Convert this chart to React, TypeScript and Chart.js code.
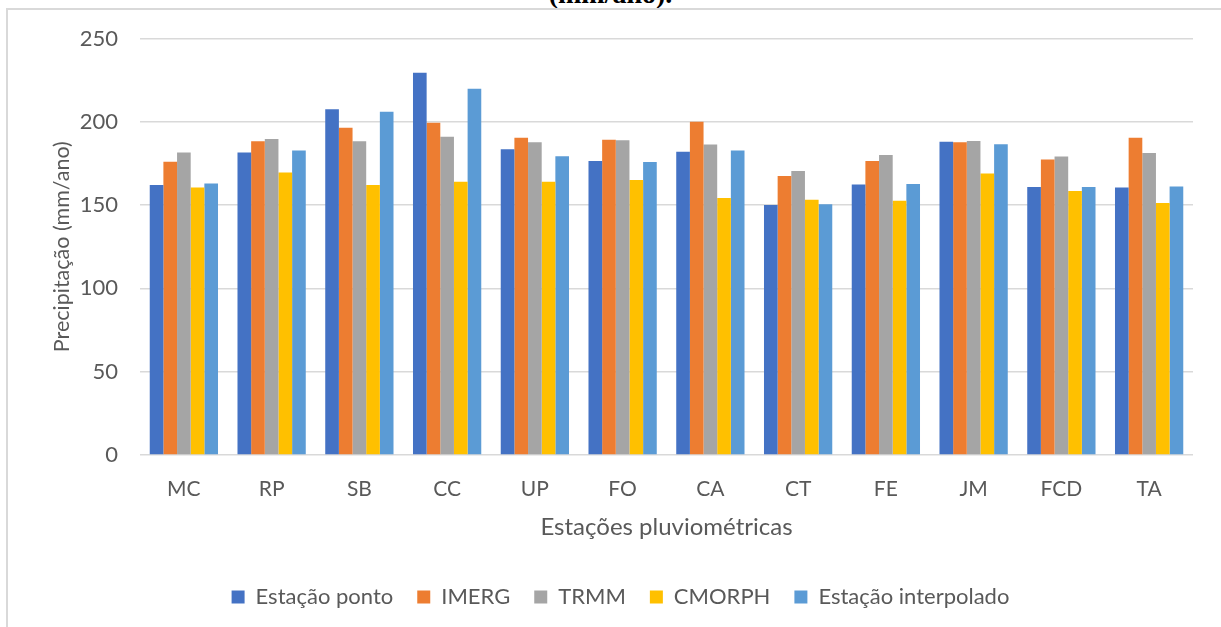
import React, { useEffect, useRef } from "react";
import { Chart, registerables } from "chart.js";

Chart.register(...registerables);

const categories = ["MC", "RP", "SB", "CC", "UP", "FO", "CA", "CT", "FE", "JM", "FCD", "TA"];
const estacaoPonto = [162, 181.5, 207.5, 229.5, 183.5, 176.5, 182, 150, 162.3, 188, 160.8, 160.5];
const imerg = [176, 188.3, 196.5, 199.5, 190.5, 189.3, 200, 167.5, 176.5, 187.7, 177.3, 190.5];
const trmm = [181.5, 189.7, 188.3, 191, 187.7, 188.9, 186.3, 170.5, 180.1, 188.5, 179.1, 181.3];
const cmorph = [160.6, 169.5, 162, 164, 164, 165.1, 154.3, 153.2, 152.6, 168.9, 158.5, 151.2];
const estacaoInterpolado = [162.9, 182.7, 206.1, 219.9, 179.3, 175.9, 182.7, 150.5, 162.7, 186.5, 160.8, 161.2];
const yTicks = [0, 50, 100, 150, 200, 250];

const seriesNames = ["Estação ponto", "IMERG", "TRMM", "CMORPH", "Estação interpolado"];
const seriesColors = ["#4472C4", "#ED7D31", "#A5A5A5", "#FFC000", "#5B9BD5"];
const seriesData = [estacaoPonto, imerg, trmm, cmorph, estacaoInterpolado];

const FONT = "Lato";
const TEXT = "#595959";

export default function App() {
  const ref = useRef<HTMLCanvasElement | null>(null);
  useEffect(() => {
    if (!ref.current) return;
    const chart = new Chart(ref.current, {
      type: "bar",
      data: {
        labels: categories,
        datasets: seriesNames.map((n, i) => ({
          label: n,
          data: seriesData[i],
          backgroundColor: seriesColors[i],
          borderWidth: 0,
          categoryPercentage: 0.778,
          barPercentage: 1,
        })),
      },
      options: {
        animation: false,
        responsive: false,
        maintainAspectRatio: false,
        layout: { padding: { top: 38.5, left: 48, right: 28, bottom: 9 } },
        plugins: {
          tooltip: { enabled: false },
          legend: {
            position: "bottom",
            labels: {
              boxWidth: 13,
              boxHeight: 13,
              padding: 24,
              color: TEXT,
              font: { family: FONT, size: 22 },
            },
          },
        },
        scales: {
          x: {
            grid: { display: false, drawTicks: false },
            border: { display: false },
            ticks: { color: TEXT, font: { family: FONT, size: 21 }, padding: 22 },
            title: {
              display: true,
              text: "Estações pluviométricas",
              color: TEXT,
              font: { family: FONT, size: 24 },
              padding: { top: 0, bottom: 20.5 },
            },
            afterFit: (s: any) => {
              s.height = 107;
            },
          },
          y: {
            min: 0,
            max: 250,
            afterBuildTicks: (s: any) => {
              s.ticks = yTicks.map((v) => ({ value: v }));
            },
            grid: { color: "#d9d9d9", lineWidth: 1.5, drawTicks: false },
            border: { display: false },
            ticks: { color: TEXT, font: { family: FONT, size: 22 }, padding: 22 },
            title: {
              display: true,
              text: "Precipitação (mm/ano)",
              color: TEXT,
              font: { family: FONT, size: 21.5 },
              padding: { top: 1, bottom: 0 },
            },
            afterFit: (s: any) => {
              s.width = 92;
            },
          },
        },
      },
    });
    return () => chart.destroy();
  }, []);

  return (
    <div style={{ position: "fixed", left: 0, top: 0, width: 1221, height: 627, background: "#fff", overflow: "hidden" }}>
      <div style={{ position: "absolute", left: 0, top: 0, width: 1221, height: 8, overflow: "hidden" }}>
        <div
          style={{
            position: "absolute",
            top: -20,
            left: 0,
            width: 1221,
            textAlign: "center",
            fontFamily: '"Liberation Serif", serif',
            fontWeight: "bold",
            fontSize: 28,
            lineHeight: "28px",
            color: "#000",
          }}
        >
          (mm/ano).
        </div>
      </div>
      <div
        style={{
          position: "absolute",
          left: 6,
          top: 8,
          width: 1240,
          height: 640,
          borderLeft: "2px solid #d9d9d9",
          borderTop: "2px solid #d9d9d9",
        }}
      />
      <canvas ref={ref} width={1221} height={627} style={{ position: "absolute", left: 0, top: 0 }} />
    </div>
  );
}
